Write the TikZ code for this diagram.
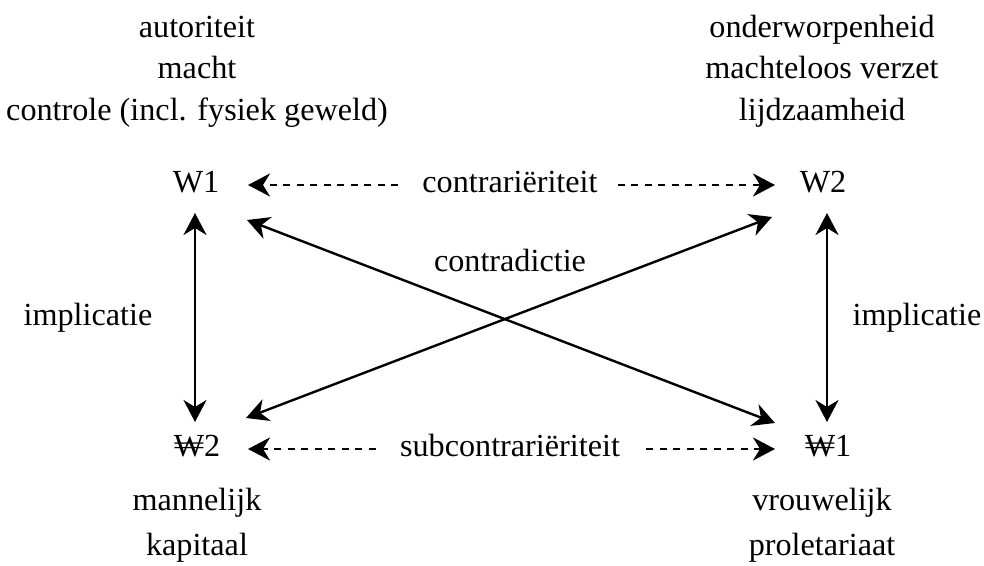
\documentclass[tikz,border=0pt]{standalone}
\usepackage{fontspec}
\setmainfont{Liberation Serif}
\usetikzlibrary{arrows.meta,calc}
\begin{document}
\begin{tikzpicture}[x=1bp,y=-1bp,
  lbl/.style={anchor=base,inner sep=0pt,font=\fontsize{32.3}{38}\selectfont},
  arr/.style={line width=2.4bp,{Stealth[length=22bp,width=23bp,inset=7bp]}-{Stealth[length=22bp,width=23bp,inset=7bp]}},
  darr/.style={line width=2.6bp,dash pattern=on 7bp off 6.5bp,-{Stealth[length=22bp,width=23bp,inset=7bp]}}]
\useasboundingbox (0,0) rectangle (984,566);
% left column
\node[lbl] (aut) at (197,38) {autoriteit};
\node[lbl] (mac) at (197,79) {macht};
\node[lbl] (con) at (197,121) {controle (incl. fysiek geweld)};
\node[lbl] (W1) at (196,193) {W1};
\node[lbl] (nW2) at (197,456) {₩2};
\node[lbl] (man) at (197,510) {mannelijk};
\node[lbl] (kap) at (197,555) {kapitaal};
% right column
\node[lbl] (ond) at (822,38) {onderworpenheid};
\node[lbl] (mlv) at (822,79) {machteloos verzet};
\node[lbl] (lij) at (822,121) {lijdzaamheid};
\node[lbl] (W2) at (823,193) {W2};
\node[lbl] (nW1) at (828,456) {₩1};
\node[lbl] (vro) at (822,510) {vrouwelijk};
\node[lbl] (pro) at (822,555) {proletariaat};
% middle labels
\node[lbl] (contr) at (510,193) {contrariëriteit};
\node[lbl] (sub) at (510,456) {subcontrariëriteit};
\node[lbl] (cdict) at (510,272) {contradictie};
\node[lbl] (impl) at (88,325) {implicatie};
\node[lbl] (impr) at (917,325) {implicatie};
% vertical implications
\draw[arr] ($(W1.base)+(-1,20)$) -- ($(nW2.base)+(-2,-34)$);
\draw[arr] ($(W2.base)+(4,20)$) -- ($(nW1.base)+(-1,-34)$);
% diagonals
\draw[arr] ($(W1.base)+(51,27)$) -- ($(nW1.base)+(-53,-33)$);
\draw[arr] ($(W2.base)+(-51,24)$) -- ($(nW2.base)+(49,-38)$);
% contrariety
\draw[darr] ($(contr.base west)+(-24,-8)$) -- ($(W1.base)+(52,-8)$);
\draw[darr] ($(contr.base east)+(20,-8)$) -- ($(W2.base)+(-48,-8)$);
\draw[darr] ($(sub.base west)+(-24,-7)$) -- ($(nW2.base)+(51,-7)$);
\draw[darr] ($(sub.base east)+(26,-7)$) -- ($(nW1.base)+(-53,-7)$);
\end{tikzpicture}
\end{document}
